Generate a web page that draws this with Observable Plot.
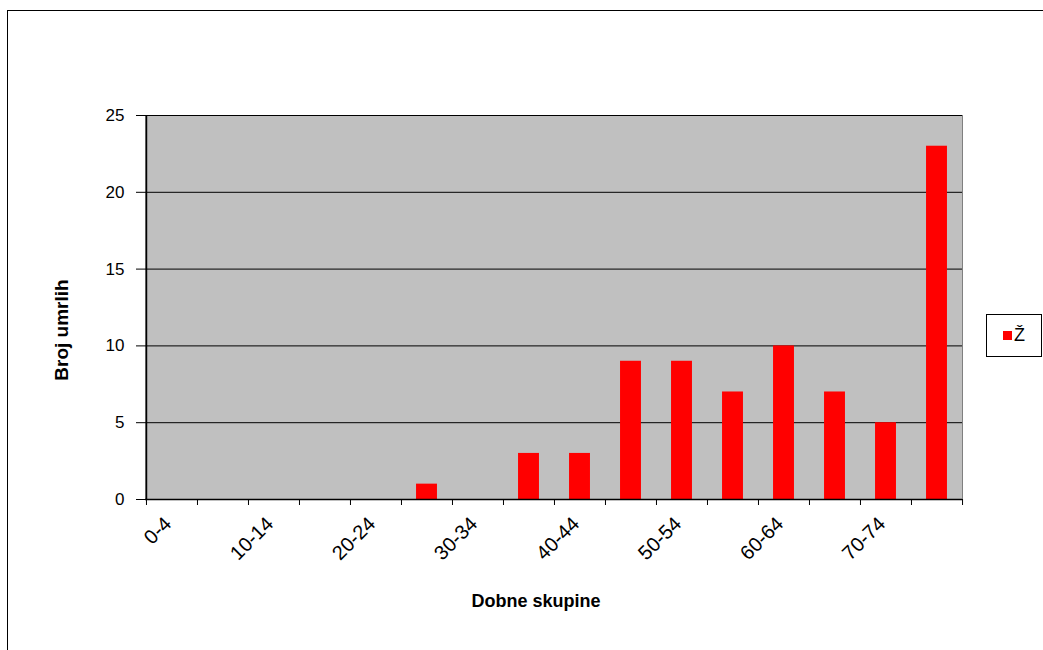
<!DOCTYPE html>
<html>
<head>
<meta charset="utf-8">
<script src="https://cdn.jsdelivr.net/npm/d3@7"></script>
<script src="https://cdn.jsdelivr.net/npm/@observablehq/plot@0.6"></script>
<style>
  html, body { margin: 0; padding: 0; background: #fff; }
  #wrap { position: relative; width: 1043px; height: 650px; overflow: hidden; font-family: "Liberation Sans", Arial, sans-serif; }
  #frame { position: absolute; left: 7px; top: 10px; width: 1100px; height: 700px; border: 1px solid #000; box-sizing: border-box; }
  #chart { position: absolute; left: 0; top: 0; }
  .ytitle { position: absolute; left: 62px; top: 330px; transform: translate(-50%, -50%) rotate(-90deg); font-weight: bold; font-size: 19px; white-space: nowrap; color: #000; }
  .xtitle { position: absolute; left: 536px; top: 601px; transform: translate(-50%, -50%); font-weight: bold; font-size: 18px; white-space: nowrap; color: #000; }
  #legend { position: absolute; left: 986px; top: 314px; width: 56px; height: 43px; border: 1px solid #000; box-sizing: border-box; background: #fff; display: flex; align-items: center; justify-content: center; font-size: 18px; }
  #legend .sw { width: 9px; height: 9px; background: #ff0000; margin-right: 2px; }
</style>
</head>
<body>
<div id="wrap">
  <div id="frame"></div>
  <div id="chart"></div>
  <div class="ytitle">Broj umrlih</div>
  <div class="xtitle">Dobne skupine</div>
  <div id="legend"><span class="sw"></span><span id="legtext"></span></div>
</div>
<script>
const categories = ["0-4","5-9","10-14","15-19","20-24","25-29","30-34","35-39","40-44","45-49","50-54","55-59","60-64","65-69","70-74","75+"];
const values = [0,0,0,0,0,1,0,3,3,9,9,7,10,7,5,23];
const tickLabels = ["0-4","10-14","20-24","30-34","40-44","50-54","60-64","70-74"];
const yTicks = [0,5,10,15,20,25];
const seriesName = "Ž";

const data = categories.map((c, i) => ({cat: c, value: values[i]}));

const W = 1043, H = 650;
const mL = 145, mR = 81, mT = 115, mB = 151;
const band = (W - mL - mR) / categories.length;
const barW = 21;

const chart = Plot.plot({
  width: W,
  height: H,
  marginLeft: mL,
  marginRight: mR,
  marginTop: mT,
  marginBottom: mB,
  style: { fontFamily: "'Liberation Sans', Arial, sans-serif", fontSize: "17px", color: "#000", background: "transparent" },
  x: { domain: categories, padding: 0, label: null },
  y: { domain: [0, 25], label: null },
  marks: [
    Plot.frame({ fill: "#c0c0c0", stroke: "#808080" }),
    Plot.gridY(yTicks.filter(d => d > 0), { stroke: "#000", strokeOpacity: 1, strokeWidth: 1 }),
    Plot.barY(data.filter(d => d.value > 0), { x: "cat", y: "value", fill: "#ff0000", insetLeft: (band - barW) / 2, insetRight: (band - barW) / 2 }),
    Plot.ruleY([0], { stroke: "#000", strokeWidth: 1.5 }),
    Plot.ruleX([categories[0]], { stroke: "#000", strokeWidth: 1.5, dx: -band / 2 }),
    Plot.axisY({ ticks: yTicks, tickSize: 9, tickPadding: 12, stroke: "#000", fontSize: 17 }),
    Plot.axisX({ ticks: categories, tickSize: 6, text: null, dx: -band / 2, stroke: "#000" }),
    Plot.axisX({ ticks: [categories[categories.length - 1]], tickSize: 6, text: null, dx: band / 2, stroke: "#000" }),
    Plot.axisX({ ticks: tickLabels, tickSize: 0, tickPadding: 21, tickRotate: -45, fontSize: 20, dx: -4 })
  ]
});
document.getElementById("chart").appendChild(chart);
document.getElementById("legtext").textContent = seriesName;
</script>
</body>
</html>
